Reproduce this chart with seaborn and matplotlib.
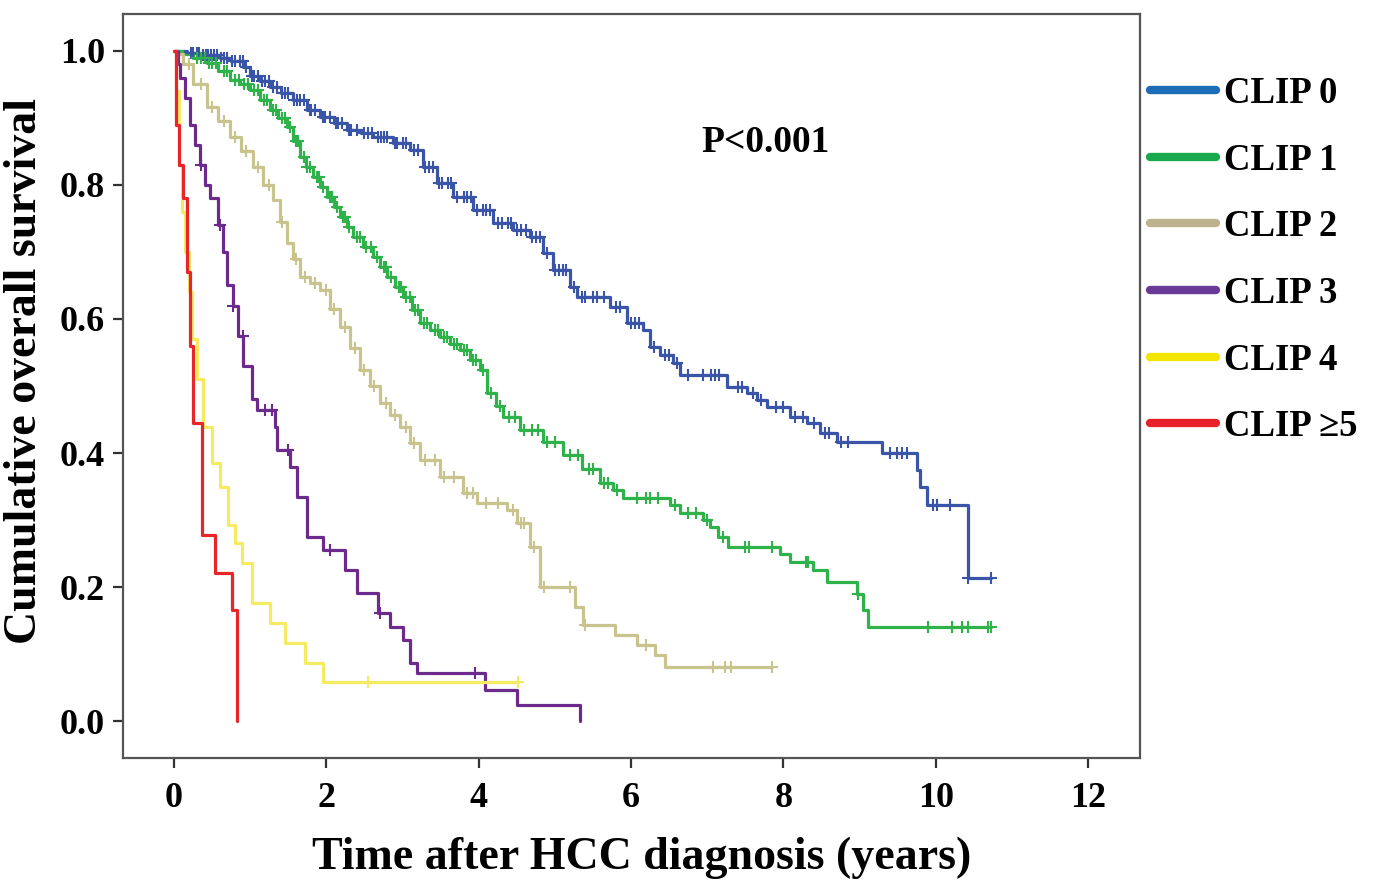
import numpy as np
import pandas as pd
import seaborn as sns
import matplotlib.pyplot as plt
from matplotlib.lines import Line2D

# Kaplan-Meier steps: survival from each time onward
clip0_t = [0, 0.17, 0.35, 0.60, 0.75, 0.91, 1.00, 1.13, 1.26, 1.40, 1.56, 1.75, 1.92, 2.10, 2.27,
           2.45, 2.61, 2.87, 3.10, 3.27, 3.45, 3.66, 3.92, 4.19, 4.45, 4.67, 4.84, 4.97, 5.20, 5.29,
           5.72, 5.94, 6.15, 6.25, 6.38, 6.55, 6.64, 7.26, 7.52, 7.65, 7.78, 8.08, 8.31, 8.48, 8.70,
           9.29, 9.75, 9.79, 9.89, 10.42, 10.73]
clip0_s = [1.0, 0.997, 0.994, 0.99, 0.985, 0.976, 0.962, 0.955, 0.946, 0.937, 0.927, 0.912, 0.901, 0.892, 0.882,
           0.877, 0.872, 0.863, 0.852, 0.827, 0.803, 0.782, 0.763, 0.743, 0.733, 0.722, 0.698, 0.673, 0.648, 0.633,
           0.618, 0.594, 0.584, 0.558, 0.546, 0.534, 0.516, 0.499, 0.49, 0.479, 0.469, 0.454, 0.445, 0.43, 0.416,
           0.40, 0.375, 0.349, 0.322, 0.213, 0.213]

clip1_t = [0, 0.10, 0.25, 0.43, 0.58, 0.73, 0.87, 1.00, 1.13, 1.26, 1.37, 1.48, 1.56, 1.65, 1.73,
           1.82, 1.92, 2.01, 2.10, 2.18, 2.27, 2.35, 2.48, 2.61, 2.70, 2.80, 2.90, 3.01, 3.12, 3.23,
           3.36, 3.49, 3.62, 3.75, 3.88, 4.02, 4.11, 4.22, 4.32, 4.54, 4.84, 5.10, 5.35, 5.59, 5.76,
           5.89, 6.51, 6.64, 6.94, 7.03, 7.14, 7.27, 7.95, 8.08, 8.39, 8.57, 8.96, 9.04, 9.11, 10.73]
clip1_s = [1.0, 0.995, 0.99, 0.982, 0.97, 0.957, 0.95, 0.942, 0.927, 0.912, 0.90, 0.887, 0.865, 0.842, 0.827,
           0.812, 0.797, 0.782, 0.767, 0.752, 0.737, 0.722, 0.707, 0.693, 0.678, 0.663, 0.648, 0.633, 0.614, 0.594,
           0.583, 0.573, 0.563, 0.554, 0.539, 0.524, 0.49, 0.47, 0.454, 0.434, 0.416, 0.397, 0.376, 0.355, 0.345,
           0.333, 0.322, 0.31, 0.30, 0.29, 0.275, 0.26, 0.25, 0.237, 0.225, 0.207, 0.19, 0.166, 0.14, 0.14]

clip2_t = [0, 0.05, 0.12, 0.25, 0.43, 0.58, 0.73, 0.88, 1.04, 1.17, 1.30, 1.39, 1.48, 1.56, 1.65,
           1.78, 1.92, 2.05, 2.18, 2.31, 2.44, 2.57, 2.70, 2.84, 2.97, 3.10, 3.23, 3.49, 3.79, 3.98,
           4.37, 4.50, 4.67, 4.80, 5.26, 5.37, 5.79, 6.08, 6.31, 6.44, 7.85]
clip2_s = [1.0, 0.995, 0.98, 0.95, 0.916, 0.895, 0.872, 0.85, 0.827, 0.80, 0.778, 0.745, 0.713, 0.69, 0.663,
           0.653, 0.643, 0.615, 0.588, 0.556, 0.524, 0.50, 0.475, 0.457, 0.439, 0.415, 0.39, 0.364, 0.34, 0.325,
           0.315, 0.296, 0.26, 0.20, 0.17, 0.143, 0.128, 0.113, 0.098, 0.081, 0.081]

clip3_t = [0, 0.05, 0.08, 0.14, 0.21, 0.27, 0.34, 0.40, 0.47, 0.58, 0.64, 0.70, 0.77, 0.84, 0.91,
           1.02, 1.09, 1.33, 1.35, 1.52, 1.61, 1.75, 1.96, 2.24, 2.40, 2.68, 2.83, 3.01, 3.10, 3.19,
           4.08, 4.50, 5.33]
clip3_s = [1.0, 0.98, 0.96, 0.93, 0.89, 0.86, 0.83, 0.80, 0.78, 0.74, 0.70, 0.65, 0.62, 0.575, 0.53,
           0.48, 0.464, 0.439, 0.404, 0.379, 0.334, 0.275, 0.255, 0.225, 0.191, 0.161, 0.14, 0.121, 0.087, 0.072,
           0.046, 0.024, 0.0]

clip4_t = [0, 0.02, 0.06, 0.10, 0.14, 0.20, 0.24, 0.30, 0.38, 0.50, 0.60, 0.71, 0.80, 0.89, 1.02,
           1.26, 1.46, 1.72, 1.96, 4.51]
clip4_s = [1.0, 0.94, 0.83, 0.76, 0.70, 0.64, 0.57, 0.51, 0.439, 0.385, 0.349, 0.293, 0.266, 0.236, 0.176,
           0.146, 0.116, 0.087, 0.058, 0.058]

clip5_t = [0, 0.03, 0.06, 0.12, 0.17, 0.21, 0.25, 0.37, 0.54, 0.76, 0.83]
clip5_s = [1.0, 0.89, 0.83, 0.78, 0.67, 0.56, 0.445, 0.278, 0.221, 0.166, 0.0]

# censored observations (years)
clip0_cens = [0.22, 0.25, 0.3, 0.33, 0.38, 0.42, 0.45, 0.48, 0.52, 0.56, 0.62, 0.66, 0.7, 0.76, 0.8,
              0.86, 0.9, 0.95, 1.02, 1.05, 1.1, 1.16, 1.2, 1.25, 1.3, 1.35, 1.42, 1.45, 1.5, 1.58,
              1.62, 1.66, 1.7, 1.78, 1.8, 1.85, 1.95, 1.98, 2.05, 2.12, 2.15, 2.2, 2.3, 2.32, 2.4,
              2.5, 2.55, 2.6, 2.68, 2.72, 2.75, 2.8, 2.9, 2.93, 3.0, 3.05, 3.15, 3.2, 3.3, 3.35, 3.4,
              3.48, 3.52, 3.6, 3.64, 3.72, 3.8, 3.85, 3.9, 3.98, 4.05, 4.1, 4.15, 4.25, 4.3, 4.38,
              4.42, 4.5, 4.56, 4.62, 4.7, 4.75, 4.8, 4.9, 5.0, 5.05, 5.1, 5.15, 5.25, 5.35, 5.4, 5.5,
              5.55, 5.65, 5.8, 5.85, 6.0, 6.05, 6.1, 6.3, 6.45, 6.5, 6.6, 6.75, 6.95, 7.05, 7.1, 7.15,
              7.4, 7.45, 7.6, 7.7, 7.9, 8.0, 8.15, 8.25, 8.4, 8.55, 8.6, 8.75, 8.85, 9.4, 9.49, 9.55,
              9.62, 9.96, 10.01, 10.18, 10.42, 10.73]
clip1_cens = [0.3, 0.35, 0.4, 0.46, 0.5, 0.55, 0.65, 0.7, 0.8, 0.85, 0.92, 0.97, 1.05, 1.1, 1.18, 1.22,
              1.3, 1.34, 1.42, 1.46, 1.52, 1.6, 1.63, 1.7, 1.75, 1.78, 1.88, 1.9, 1.96, 2.05, 2.08,
              2.14, 2.22, 2.25, 2.3, 2.4, 2.44, 2.52, 2.58, 2.66, 2.75, 2.78, 2.85, 2.95, 2.98, 3.05,
              3.1, 3.16, 3.2, 3.28, 3.32, 3.42, 3.46, 3.55, 3.58, 3.68, 3.72, 3.8, 3.85, 3.92, 3.97,
              4.06, 4.16, 4.28, 4.4, 4.48, 4.6, 4.7, 4.78, 4.9, 5.0, 5.2, 5.3, 5.45, 5.5, 5.65, 5.7,
              5.82, 6.08, 6.2, 6.25, 6.35, 6.58, 6.75, 6.85, 7.0, 7.2, 7.5, 7.55, 7.85, 8.3, 8.32,
              8.98, 9.9, 10.21, 10.34, 10.42, 10.68, 10.73]
clip2_cens = [0.2, 0.35, 0.5, 0.65, 0.8, 0.95, 1.1, 1.25, 1.42, 1.6, 1.72, 1.85, 2.0, 2.1, 2.25, 2.38,
              2.5, 2.62, 2.78, 2.9, 3.05, 3.15, 3.3, 3.42, 3.55, 3.68, 3.85, 3.92, 4.1, 4.25, 4.45,
              4.55, 4.6, 4.72, 4.85, 5.2, 5.4, 6.2, 7.07, 7.23, 7.31, 7.85]
clip3_cens = [0.35, 0.6, 0.78, 0.9, 1.2, 1.28, 1.5, 2.05, 2.7, 3.95]
clip4_cens = [2.55, 4.51]
clip5_cens = []

groups = ['CLIP 0', 'CLIP 1', 'CLIP 2', 'CLIP 3', 'CLIP 4', 'CLIP \u22655']
times = [clip0_t, clip1_t, clip2_t, clip3_t, clip4_t, clip5_t]
survs = [clip0_s, clip1_s, clip2_s, clip3_s, clip4_s, clip5_s]
cens = [clip0_cens, clip1_cens, clip2_cens, clip3_cens, clip4_cens, clip5_cens]
line_colors = ['#3a55a8', '#2fb24a', '#c9c38e', '#6c2a8c', '#f5eb62', '#e8262a']
legend_colors = ['#1c6cb6', '#1aa84c', '#bdb48f', '#6a3a98', '#f2e600', '#e8202a']

rows = []
for g, ts, ss in zip(groups, times, survs):
    for t, s in zip(ts, ss):
        rows.append((g, t, s))
df = pd.DataFrame(rows, columns=['group', 'time', 'surv'])

sns.set_theme(style='white')
plt.rcParams['font.family'] = ['Liberation Serif', 'DejaVu Serif']
plt.rcParams['font.weight'] = 'bold'
plt.rcParams['text.color'] = 'black'
plt.rcParams['axes.labelcolor'] = 'black'
plt.rcParams['xtick.color'] = 'black'
plt.rcParams['ytick.color'] = 'black'

fig = plt.figure(figsize=(13.77, 8.94), dpi=100)
ax = fig.add_axes([123 / 1377, 1 - 758 / 894, 1017 / 1377, 744 / 894])

sns.lineplot(data=df, x='time', y='surv', hue='group', hue_order=groups,
             palette=dict(zip(groups, line_colors)), estimator=None, sort=False,
             drawstyle='steps-post', linewidth=2.3, legend=False, ax=ax)

for g, ts, ss, cs, col in zip(groups, times, survs, cens, line_colors):
    if not cs:
        continue
    idx = np.searchsorted(ts, cs, side='right') - 1
    ax.plot(cs, np.array(ss)[idx], linestyle='none', marker='+', markersize=9,
            markeredgewidth=1.5, color=col)

ax.set_xlim(-0.67, 12.68)
ax.set_ylim(-0.055, 1.055)
ax.set_xticks(range(0, 13, 2))
ax.set_yticks(np.arange(0, 1.01, 0.2))
ax.set_yticklabels([f'{v:.1f}' for v in np.arange(0, 1.01, 0.2)])
ax.tick_params(axis='both', direction='out', length=7, width=1.6, color='#333333',
               labelsize=26, pad=6, left=True, bottom=True)
ax.tick_params(axis='x', pad=10)
for sp in ax.spines.values():
    sp.set_color('#555555')
    sp.set_linewidth(1.6)

ax.set_xlabel('Time after HCC diagnosis (years)', fontsize=33, fontweight='bold')
ax.set_ylabel('Cumulative overall survival', fontsize=33, fontweight='bold')
ax.xaxis.set_label_coords(0.51, -0.105)
ax.yaxis.set_label_coords(-0.076, 0.52)

ax.text(7.76, 0.864, 'P<0.001', fontsize=27, fontweight='bold', ha='center', va='center')

handles = [Line2D([0], [0], color=c, linewidth=6) for c in legend_colors]
ax.legend(handles, groups, loc='upper left', bbox_to_anchor=(1.0, 0.93), frameon=False,
          fontsize=26.5, handlelength=1.8, handletextpad=0.2, labelspacing=0.86,
          borderaxespad=0, borderpad=0.27)

fig.savefig('out.png', dpi=100)
